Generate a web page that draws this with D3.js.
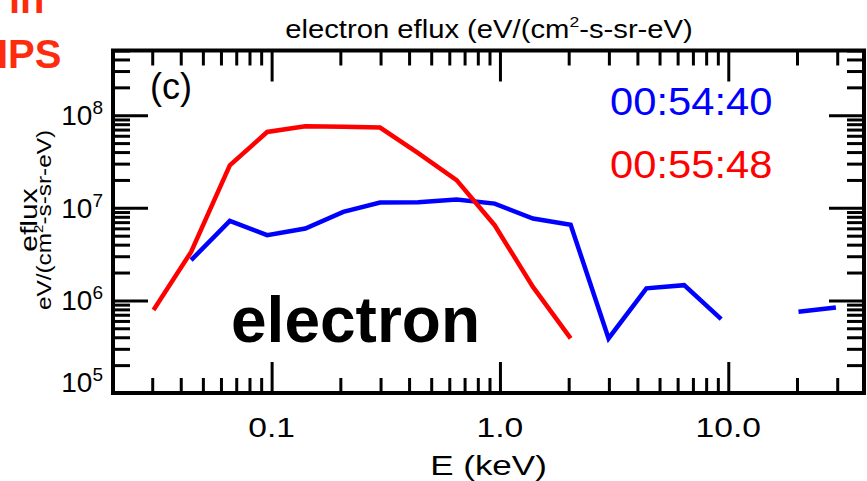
<!DOCTYPE html>
<html>
<head>
<meta charset="utf-8">
<script src="https://cdn.jsdelivr.net/npm/d3@7/dist/d3.min.js"></script>
<style>
body { margin: 0; background: #fff; }
text { font-family: "Liberation Sans", Arial, Helvetica, sans-serif; }
.axis path { display: none; }
.axis line { stroke: #000; stroke-width: 3; }
</style>
</head>
<body>
<svg id="chart" width="867" height="481"></svg>
<script>
// energy channels (keV)
var energy = [0.0304, 0.0444, 0.0656, 0.0956, 0.1405, 0.206, 0.2985, 0.4386, 0.6457, 0.948,
              1.395, 2.04, 2.99, 4.38, 6.41, 9.31, 13.7, 20.3, 29.6];
// eflux at 00:54:40 (blue), null = no data
var fluxBlue = [null, 2.72e6, 7.22e6, 5.06e6, 5.98e6, 9.03e6, 1.14e7, 1.15e7, 1.23e7, 1.11e7,
                7.67e6, 6.57e6, 3.89e5, 1.35e6, 1.46e6, 6.29e5, null, 7.54e5, 8.4e5];
// eflux at 00:55:48 (red)
var fluxRed = [7.86e5, 3.34e6, 2.88e7, 6.59e7, 7.59e7, 7.5e7, 7.35e7, 3.9e7, 1.99e7, 6.49e6,
               1.40e6, 3.89e5, null, null, null, null, null, null, null];

var xMajor = [0.1, 1, 10];
var xLabels = ["0.1", "1.0", "10.0"];
var yMajor = [1e5, 1e6, 1e7, 1e8];
var times = ["00:54:40", "00:55:48"];
var timeColors = ["#0000ff", "#ff0000"];

var margin = {l: 113, r: 864, t: 50.5, b: 393};
var svg = d3.select('#chart');

var x = d3.scaleLog().domain([0.0202, 39.3]).range([margin.l, margin.r]);
var y = d3.scaleLog().domain([1e5, 5e8]).range([margin.b, margin.t]);

var isMajor = function(v){ return Math.abs(Math.log10(v) - Math.round(Math.log10(v))) < 1e-6; };
var xMinor = x.ticks().filter(function(v){ return !isMajor(v); });
var yMinor = y.ticks().filter(function(v){ return !isMajor(v); });

//tick marks on all four sides, pointing inward
svg.append('g').attr('class','axis').attr('transform','translate(0,'+margin.b+')')
    .call(d3.axisBottom(x).tickValues(xMinor).tickSize(-15).tickFormat(''));
svg.append('g').attr('class','axis').attr('transform','translate(0,'+margin.b+')')
    .call(d3.axisBottom(x).tickValues(xMajor).tickSize(-31).tickFormat(''));
svg.append('g').attr('class','axis').attr('transform','translate(0,'+margin.t+')')
    .call(d3.axisTop(x).tickValues(xMinor).tickSize(-15).tickFormat(''));
svg.append('g').attr('class','axis').attr('transform','translate(0,'+margin.t+')')
    .call(d3.axisTop(x).tickValues(xMajor).tickSize(-31).tickFormat(''));
svg.append('g').attr('class','axis').attr('transform','translate('+margin.l+',0)')
    .call(d3.axisLeft(y).tickValues(yMinor).tickSize(-17).tickFormat(''));
svg.append('g').attr('class','axis').attr('transform','translate('+margin.l+',0)')
    .call(d3.axisLeft(y).tickValues(yMajor).tickSize(-35).tickFormat(''));
svg.append('g').attr('class','axis').attr('transform','translate('+margin.r+',0)')
    .call(d3.axisRight(y).tickValues(yMinor).tickSize(-17).tickFormat(''));
svg.append('g').attr('class','axis').attr('transform','translate('+margin.r+',0)')
    .call(d3.axisRight(y).tickValues(yMajor).tickSize(-35).tickFormat(''));

//frame
svg.append('rect')
    .attr('x', margin.l).attr('y', margin.t)
    .attr('width', margin.r - margin.l).attr('height', margin.b - margin.t)
    .attr('fill','none').attr('stroke','#000').attr('stroke-width',4);

//x tick labels
xMajor.forEach(function(v,i){
    svg.append('text')
        .attr('transform','translate('+x(v)+',437) scale(1.2,1)')
        .attr('text-anchor','middle').attr('font-size',28)
        .text(xLabels[i]);
});
svg.append('text')
    .attr('transform','translate('+((margin.l+margin.r)/2)+',475) scale(1.25,1)')
    .attr('text-anchor','middle').attr('font-size',28)
    .text('E (keV)');

//y tick labels 10^n
yMajor.forEach(function(v){
    var t = svg.append('text')
        .attr('x', 103).attr('y', Math.min(y(v) + 10, margin.b - 1))
        .attr('text-anchor','end').attr('font-size',28);
    t.append('tspan').text('10');
    t.append('tspan').attr('dy',-11).attr('font-size',19).text(Math.round(Math.log10(v)));
});

//y axis title
svg.append('text')
    .attr('transform','translate(37,220) rotate(-90) scale(1.25,1)')
    .attr('text-anchor','middle').attr('font-size',24)
    .text('eflux');
var yt = svg.append('text')
    .attr('transform','translate(51,220) rotate(-90) scale(1.16,1)')
    .attr('text-anchor','middle').attr('font-size',21);
yt.append('tspan').text('eV/(cm');
yt.append('tspan').attr('dy',-8).attr('font-size',13).text('2');
yt.append('tspan').attr('dy',8).text('-s-sr-eV)');

//plot title
var tt = svg.append('text')
    .attr('transform','translate(489,38) scale(1.17,1)')
    .attr('text-anchor','middle').attr('font-size',25);
tt.append('tspan').text('electron eflux (eV/(cm');
tt.append('tspan').attr('dy',-11).attr('font-size',15).text('2');
tt.append('tspan').attr('dy',11).text('-s-sr-eV)');

//lines
var line = d3.line()
    .defined(function(d){ return d[1] != null; })
    .x(function(d){ return x(d[0]); })
    .y(function(d){ return y(d[1]); });

[[fluxBlue, '#0000ff'], [fluxRed, '#ff0000']].forEach(function(s){
    svg.append('path')
        .datum(d3.zip(energy, s[0]))
        .attr('d', line)
        .attr('fill','none')
        .attr('stroke', s[1])
        .attr('stroke-width', 4.5)
        .attr('stroke-linejoin','miter');
});

//time stamps
times.forEach(function(t,i){
    svg.append('text')
        .attr('transform','translate(610,'+(115 + i*63)+') scale(1.07,1)')
        .attr('font-size',39).attr('fill',timeColors[i])
        .text(t);
});

//panel annotations
svg.append('text').attr('x',150).attr('y',99).attr('font-size',36).text('(c)');
svg.append('text').attr('x',231).attr('y',342).attr('font-size',64)
    .attr('font-weight','bold').text('electron');
svg.append('text').attr('x',9).attr('y',13).attr('font-size',40)
    .attr('font-weight','bold').attr('fill','#fe2c0e').text('in');
svg.append('text').attr('x',-3).attr('y',68).attr('font-size',40)
    .attr('font-weight','bold').attr('fill','#fe2c0e').text('IPS');
</script>
</body>
</html>
